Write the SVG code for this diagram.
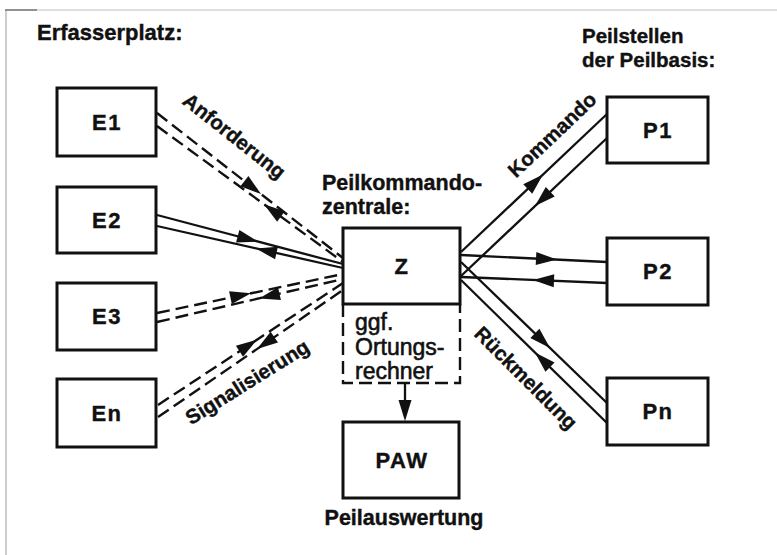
<svg xmlns="http://www.w3.org/2000/svg" xmlns:xlink="http://www.w3.org/1999/xlink" width="777" height="555" viewBox="0 0 777 555">
<style>
.box{fill:#fff;stroke:#111;stroke-width:3}
.ln{fill:none;stroke:#111;stroke-width:2.3}
.dl{fill:none;stroke:#111;stroke-width:2.4;stroke-dasharray:13 6}
.ah{fill:#111}
.t{font-family:"Liberation Sans",Arial,sans-serif;font-weight:bold;fill:#111;stroke:#111;stroke-width:0.4}
.lbl{font-family:"Liberation Sans",Arial,sans-serif;font-weight:bold;font-size:22px;fill:#111;stroke:#111;stroke-width:0.4;text-anchor:middle;letter-spacing:1.5px}
.r{font-family:"Liberation Sans",Arial,sans-serif;font-size:23px;fill:#111;stroke:#111;stroke-width:0.6}
</style>
<defs>
<path id="ah" d="M0,0 L-21,-6.5 L-21,6.5 Z"/>
</defs>
<rect width="777" height="555" fill="#fff"/>
<g id="frame">
<line x1="6" y1="10" x2="777" y2="10" stroke="#d4d4d4" stroke-width="1.5"/>
<line x1="6" y1="10" x2="6" y2="555" stroke="#bdbdbd" stroke-width="1.5"/>
<line x1="5" y1="10" x2="37" y2="10" stroke="#777" stroke-width="1.5"/>
</g>
<g id="headings">
<text class="t" x="37" y="40" font-size="22">Erfasserplatz:</text>
<text class="t" x="582" y="43" font-size="20.5">Peilstellen</text>
<text class="t" x="582" y="67" font-size="20.5">der Peilbasis:</text>
<text class="t" x="322" y="190" font-size="21.5">Peilkommando-</text>
<text class="t" x="322" y="214" font-size="21.5">zentrale:</text>
<text class="t" x="404" y="525" font-size="21.5" text-anchor="middle">Peilauswertung</text>
</g>
<g id="connectors">
<line class="dl" x1="157" y1="113" x2="343" y2="258"/>
<line class="dl" x1="157" y1="126" x2="343" y2="262"/>
<line class="ln" x1="157" y1="215" x2="343" y2="264"/>
<line class="ln" x1="157" y1="226" x2="343" y2="268"/>
<line class="dl" x1="157" y1="313" x2="343" y2="274"/>
<line class="dl" x1="157" y1="322" x2="343" y2="279"/>
<line class="dl" x1="158" y1="405" x2="343" y2="283"/>
<line class="dl" x1="158" y1="417" x2="343" y2="290"/>
<line class="ln" x1="461" y1="252" x2="607" y2="114"/>
<line class="ln" x1="461" y1="276" x2="607" y2="138"/>
<line class="ln" x1="461" y1="255" x2="607" y2="262"/>
<line class="ln" x1="461" y1="277" x2="607" y2="283"/>
<line class="ln" x1="461" y1="262" x2="607" y2="403"/>
<line class="ln" x1="461" y1="280" x2="607" y2="423"/>
<line class="ln" x1="405" y1="383" x2="405" y2="405"/>
<g class="ah">
<use xlink:href="#ah" transform="translate(261,194.1) rotate(37.9)"/>
<use xlink:href="#ah" transform="translate(264,204.2) rotate(216.2)"/>
<use xlink:href="#ah" transform="translate(258,241.6) rotate(14.76)"/>
<use xlink:href="#ah" transform="translate(256,248.4) rotate(192.72)"/>
<use xlink:href="#ah" transform="translate(251,293.3) rotate(-11.84)"/>
<use xlink:href="#ah" transform="translate(259,298.4) rotate(166.99)"/>
<use xlink:href="#ah" transform="translate(257,339.7) rotate(-33.4)"/>
<use xlink:href="#ah" transform="translate(257,349) rotate(145.53)"/>
<use xlink:href="#ah" transform="translate(543,174.5) rotate(-43.39)"/>
<use xlink:href="#ah" transform="translate(535,206.1) rotate(136.61)"/>
<use xlink:href="#ah" transform="translate(557,259.6) rotate(2.74)"/>
<use xlink:href="#ah" transform="translate(533,280) rotate(182.35)"/>
<use xlink:href="#ah" transform="translate(550,348) rotate(44)"/>
<use xlink:href="#ah" transform="translate(535,352.5) rotate(224.41)"/>
<use xlink:href="#ah" transform="translate(405,421) rotate(90)"/>
</g>
<text class="t" font-size="20.5" text-anchor="middle" transform="translate(230,141.5) rotate(38.4)">Anforderung</text>
<text class="t" font-size="20.5" text-anchor="middle" transform="translate(251,388) rotate(-32)">Signalisierung</text>
<text class="t" font-size="20.5" text-anchor="middle" transform="translate(557,140) rotate(-43.4)">Kommando</text>
<text class="t" font-size="20.5" text-anchor="middle" transform="translate(521,383) rotate(45)">Rückmeldung</text>
</g>
<g id="E1"><rect class="box" x="57" y="88" width="99" height="68"/><text class="lbl" x="107" y="130">E1</text></g>
<g id="E2"><rect class="box" x="57" y="187" width="99" height="66"/><text class="lbl" x="107" y="228">E2</text></g>
<g id="E3"><rect class="box" x="57" y="283" width="99" height="67"/><text class="lbl" x="107" y="324">E3</text></g>
<g id="En"><rect class="box" x="57" y="379" width="99" height="68"/><text class="lbl" x="107" y="421">En</text></g>
<g id="Z"><rect class="box" x="343" y="228" width="117" height="76"/><text class="lbl" x="402" y="274">Z</text></g>
<g id="Ortungsrechner">
<path class="dl" d="M343,304 V383 H460 V304" stroke-dasharray="11 6"/>
<text class="r" x="355" y="330">ggf.</text>
<text class="r" x="355" y="355">Ortungs-</text>
<text class="r" x="355" y="379">rechner</text>
</g>
<g id="PAW"><rect class="box" x="343" y="422" width="116" height="76"/><text class="lbl" x="402" y="468">PAW</text></g>
<g id="P1"><rect class="box" x="607" y="97" width="101" height="66"/><text class="lbl" x="658" y="138">P1</text></g>
<g id="P2"><rect class="box" x="607" y="238" width="101" height="67"/><text class="lbl" x="658" y="279">P2</text></g>
<g id="Pn"><rect class="box" x="607" y="378" width="101" height="67"/><text class="lbl" x="658" y="419">Pn</text></g>
</svg>
